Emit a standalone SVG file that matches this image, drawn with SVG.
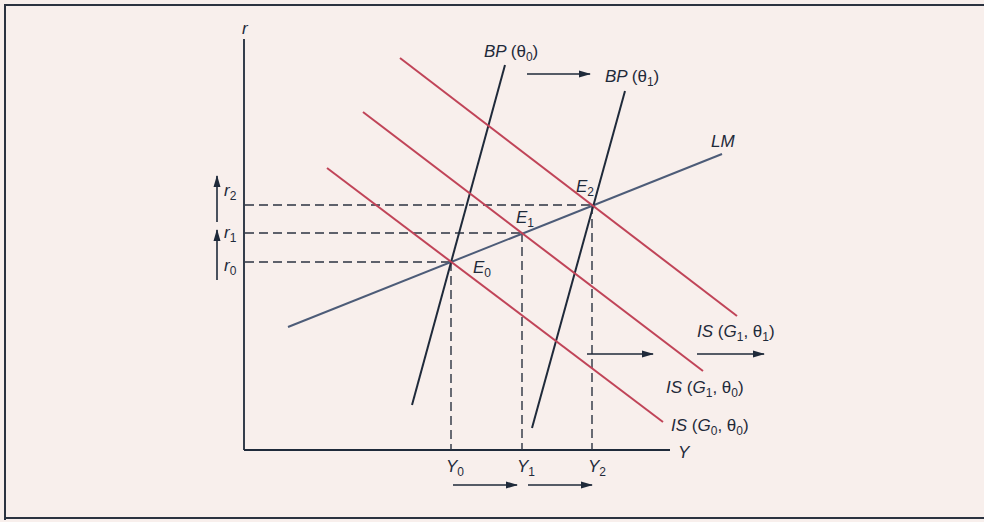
<svg xmlns="http://www.w3.org/2000/svg" width="984" height="522" viewBox="0 0 984 522">
<defs>
<marker id="ah" viewBox="0 0 12 10" refX="11" refY="5" markerWidth="12" markerHeight="10" markerUnits="userSpaceOnUse" orient="auto">
<path d="M0,1.5 L12,5 L0,8.5 Z" fill="#1f2a3a"/>
</marker>
<style>
.bg{fill:#f8efec}
.frame{stroke:#2b3340;stroke-width:2;fill:none}
.axis{stroke:#1f2a3a;stroke-width:1.8;fill:none}
.bp{stroke:#1f2a3a;stroke-width:2;fill:none}
.lm{stroke:#4d5c78;stroke-width:2;fill:none}
.is{stroke:#c04458;stroke-width:2;fill:none}
.dash{stroke:#2b3340;stroke-width:1.4;stroke-dasharray:9 5;fill:none}
.arr{stroke:#1f2a3a;stroke-width:1.6;fill:none;marker-end:url(#ah)}
text{font-family:"Liberation Sans",Arial,sans-serif;font-style:italic;font-size:17px;fill:#1f2a3a}
.sub{font-size:12px;font-style:normal}
.up{font-style:normal}
</style>
</defs>
<rect class="bg" x="0" y="0" width="984" height="522"/>
<path class="frame" d="M5,520 V5 H984 M5,518 H984"/>

<g id="axes">
<line class="axis" x1="244" y1="39" x2="244" y2="450"/>
<line class="axis" x1="244" y1="450" x2="670" y2="450"/>
<text x="242" y="34">r</text>
<text x="678" y="458">Y</text>
</g>

<g id="connectors">
<path class="dash" d="M245,205 H592 M245,233 H522 M245,262 H451"/>
<path class="dash" d="M451,262 V450 M522,233 V450 M592,205 V450"/>
<line class="arr" x1="217" y1="222" x2="217" y2="176"/>
<line class="arr" x1="217" y1="280" x2="217" y2="230"/>
<line class="arr" x1="527" y1="74" x2="590" y2="74"/>
<line class="arr" x1="587" y1="354" x2="653" y2="354"/>
<line class="arr" x1="697" y1="354" x2="764" y2="354"/>
<line class="arr" x1="453" y1="485" x2="517" y2="485"/>
<line class="arr" x1="528" y1="485" x2="592" y2="485"/>
</g>

<g id="LM">
<line class="lm" x1="288" y1="327" x2="722" y2="154"/>
<text x="711" y="147">LM</text>
</g>

<g id="BP0">
<line class="bp" x1="505" y1="65" x2="412" y2="405"/>
<text x="484" y="57">BP <tspan class="up">(θ</tspan><tspan class="sub" dy="4">0</tspan><tspan class="up" dy="-4">)</tspan></text>
</g>

<g id="BP1">
<line class="bp" x1="625" y1="91" x2="532" y2="428"/>
<text x="605" y="82">BP <tspan class="up">(θ</tspan><tspan class="sub" dy="4">1</tspan><tspan class="up" dy="-4">)</tspan></text>
</g>

<g id="IS00">
<line class="is" x1="327" y1="168" x2="663" y2="422"/>
<text x="671" y="431">IS <tspan class="up">(</tspan>G<tspan class="sub" dy="4">0</tspan><tspan class="up" dy="-4">, θ</tspan><tspan class="sub" dy="4">0</tspan><tspan class="up" dy="-4">)</tspan></text>
</g>

<g id="IS10">
<line class="is" x1="363" y1="112" x2="703" y2="371"/>
<text x="666" y="393">IS <tspan class="up">(</tspan>G<tspan class="sub" dy="4">1</tspan><tspan class="up" dy="-4">, θ</tspan><tspan class="sub" dy="4">0</tspan><tspan class="up" dy="-4">)</tspan></text>
</g>

<g id="IS11">
<line class="is" x1="400" y1="58" x2="737" y2="316"/>
<text x="697" y="337">IS <tspan class="up">(</tspan>G<tspan class="sub" dy="4">1</tspan><tspan class="up" dy="-4">, θ</tspan><tspan class="sub" dy="4">1</tspan><tspan class="up" dy="-4">)</tspan></text>
</g>

<g id="E0"><text x="473" y="273">E<tspan class="sub" dy="4">0</tspan></text></g>
<g id="E1"><text x="516" y="223">E<tspan class="sub" dy="4">1</tspan></text></g>
<g id="E2"><text x="576" y="192">E<tspan class="sub" dy="4">2</tspan></text></g>

<g id="r-labels">
<text x="224" y="196">r<tspan class="sub" dy="4">2</tspan></text>
<text x="224" y="238">r<tspan class="sub" dy="4">1</tspan></text>
<text x="224" y="271">r<tspan class="sub" dy="4">0</tspan></text>
</g>

<g id="Y-labels">
<text x="446" y="472">Y<tspan class="sub" dy="4">0</tspan></text>
<text x="517" y="472">Y<tspan class="sub" dy="4">1</tspan></text>
<text x="588" y="472">Y<tspan class="sub" dy="4">2</tspan></text>
</g>
</svg>
